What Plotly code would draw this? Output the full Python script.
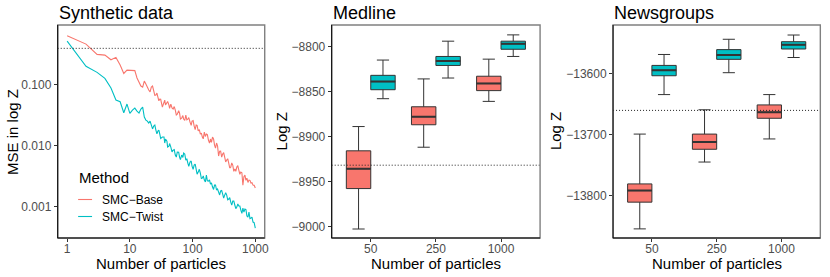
import plotly.graph_objects as go

# ---------------- Data ----------------
particles = [1, 2, 3, 4, 5, 6, 7, 8, 9, 10, 11, 12, 13, 14, 15, 16, 17, 18, 19, 20,
             21, 22, 23, 24, 25, 26, 27, 28, 29, 30, 31,
             33, 35, 36, 37, 39, 40, 42, 43, 45, 47, 49, 51, 53, 55, 57, 60, 62, 64, 67, 70,
             72, 75, 78, 81, 84, 87, 91, 95, 98,
             102, 106, 110, 114, 118, 123, 128, 133, 138, 143, 148, 154, 160, 166, 172, 179,
             186, 193, 200, 208, 216, 224, 232, 241, 250, 260, 270, 280, 291, 302, 313, 325,
             337, 350, 363, 377, 391, 406, 421, 437, 454, 471, 489, 507, 526, 546, 567, 588,
             611, 634, 658, 683, 709, 735, 763, 792, 822, 853, 885, 919, 958, 1000]

mse_base = [0.622, 0.455, 0.309, 0.301, 0.252, 0.276, 0.207, 0.151, 0.171, 0.171,
            0.171, 0.168, 0.127, 0.105, 0.0938, 0.0903, 0.113, 0.101, 0.0870, 0.0807,
            0.0752, 0.0903, 0.094, 0.0807, 0.066, 0.0668, 0.072, 0.0620, 0.054, 0.0575, 0.057,
            0.0426, 0.0535, 0.0554, 0.046, 0.0495, 0.0525, 0.0459, 0.0407, 0.0477, 0.0412,
            0.0395, 0.0434, 0.0380, 0.0317, 0.0327, 0.0373, 0.0340, 0.0272, 0.0281, 0.0309,
            0.0271, 0.0257, 0.0315, 0.0263, 0.0271, 0.0287, 0.0242, 0.0214, 0.0251,
            0.0256, 0.0208, 0.0182, 0.0216, 0.0213, 0.0173, 0.0183, 0.0154, 0.0160, 0.0138,
            0.0129, 0.0166, 0.0141, 0.0154, 0.0151, 0.0123,
            0.0110, 0.0128, 0.0113, 0.0138, 0.0128, 0.0102, 0.0091, 0.0110, 0.0099, 0.00674,
            0.0081, 0.00813, 0.0065, 0.00726, 0.0077, 0.00649,
            0.0054, 0.00580, 0.0061, 0.00518, 0.0043, 0.00445, 0.0052, 0.00480, 0.0038,
            0.00413, 0.0038, 0.00445, 0.0047, 0.00398, 0.0034, 0.00369,
            0.0036, 0.00226, 0.0031, 0.00330, 0.0027, 0.00294, 0.0025, 0.00273, 0.0027,
            0.00244, 0.00247, 0.00226, 0.00224, 0.00202]

mse_twist = [0.510, 0.197, 0.157, 0.125, 0.0870, 0.0554, 0.0520, 0.0344, 0.0477, 0.0336,
             0.0380, 0.0410, 0.0366, 0.0340, 0.0395, 0.0426, 0.0292, 0.0261, 0.0251, 0.0233,
             0.0251, 0.0216, 0.0187, 0.0208, 0.0216, 0.0179, 0.0155, 0.0173, 0.0179, 0.0154,
             0.0131,
             0.0138, 0.0138, 0.0110, 0.0128, 0.0118, 0.0095, 0.00981, 0.0108, 0.00945, 0.0079,
             0.00844, 0.0086, 0.00700, 0.0065, 0.00783, 0.0078, 0.00649, 0.0059, 0.00700,
             0.0064, 0.00754, 0.0073, 0.00580, 0.0061, 0.00518, 0.0046, 0.00537, 0.0056,
             0.00462,
             0.0041, 0.00480, 0.0050, 0.00413, 0.0034, 0.00369, 0.0041, 0.00356, 0.0029,
             0.00294, 0.0032, 0.00273, 0.00255, 0.00330, 0.00265, 0.00263,
             0.00274, 0.00235, 0.00245, 0.00210, 0.00192, 0.00226, 0.00227, 0.00188, 0.00195,
             0.00174, 0.00156, 0.00181, 0.00184, 0.00161, 0.00139, 0.00155,
             0.00170, 0.00155, 0.00130, 0.00134, 0.00141, 0.00119, 0.00107, 0.00124, 0.00124,
             0.00107, 0.00093, 0.000989, 0.00111, 0.00103, 0.00103, 0.000883,
             0.00078, 0.000952, 0.00082, 0.000917, 0.0009, 0.000705, 0.00068, 0.000819,
             0.00064, 0.000654, 0.00068, 0.000562, 0.00055, 0.000449]

mse_reference = 0.388
methods = ["SMC\u2212Base", "SMC\u2212Twist"]

box_categories = ["50", "250", "1000"]

medline_base = {"low": [-9003, -8912, -8861], "q1": [-8958, -8887, -8849],
                "med": [-8936, -8878, -8841], "q3": [-8916, -8867, -8833],
                "high": [-8889, -8836, -8814]}
medline_twist = {"low": [-8858, -8835, -8811], "q1": [-8848, -8821, -8803],
                 "med": [-8839, -8816, -8797], "q3": [-8832, -8811, -8794],
                 "high": [-8815, -8794, -8787]}
medline_reference = -8932
medline_ticks = [-9000, -8950, -8900, -8850, -8800]

news_base = {"low": [-13855, -13745, -13707], "q1": [-13811, -13724, -13673],
             "med": [-13792, -13712, -13663], "q3": [-13781, -13699, -13651],
             "high": [-13699, -13659, -13634]}
news_twist = {"low": [-13634, -13598, -13573], "q1": [-13603, -13576, -13559],
              "med": [-13594, -13569, -13552], "q3": [-13586, -13560, -13547],
              "high": [-13568, -13543, -13536]}
news_reference = -13660
news_ticks = [-13800, -13700, -13600]

n = min(len(particles), len(mse_base), len(mse_twist))

# ---------------- Style ----------------
W, H = 830, 277
RED, TEAL = "#F8766D", "#00BFC4"
COLORS = [RED, TEAL]
FONT = "Liberation Sans, Arial, Helvetica, sans-serif"
TICKCOL = "#4D4D4D"
BOXLINE = "#333333"

def px_x(p):
    return p / W

def px_y(p):
    return 1 - p / H

def minus(v):
    return str(v).replace("-", "\u2212")

panels = {1: (58, 266), 2: (333.3, 542.7), 3: (616, 824.3)}
top_px, bot_px = 25, 238

fig = go.Figure()

for name, vals, col in zip(methods, [mse_base, mse_twist], COLORS):
    fig.add_trace(go.Scatter(x=particles[:n], y=vals[:n], mode="lines", name=name,
                             showlegend=False, line=dict(color=col, width=1.1),
                             xaxis="x", yaxis="y"))

def add_boxes(data, color, xa, ya, name, side):
    fig.add_trace(go.Box(
        x=box_categories, q1=data["q1"], median=data["med"], q3=data["q3"],
        lowerfence=data["low"], upperfence=data["high"], name=name,
        fillcolor=color, line=dict(color=BOXLINE, width=1), showlegend=False,
        offsetgroup=name, xaxis=xa, yaxis=ya, boxpoints=False, hoverinfo="skip"))
    for i, m in enumerate(data["med"]):
        x0, x1 = (i - 0.375, i) if side == 0 else (i, i + 0.375)
        fig.add_shape(type="line", xref=xa, yref=ya, x0=x0, x1=x1, y0=m, y1=m,
                      line=dict(color=BOXLINE, width=2), layer="above")

add_boxes(medline_base, RED, "x2", "y2", "base", 0)
add_boxes(medline_twist, TEAL, "x2", "y2", "twist", 1)
add_boxes(news_base, RED, "x3", "y3", "base", 0)
add_boxes(news_twist, TEAL, "x3", "y3", "twist", 1)

axis_common = dict(showgrid=False, zeroline=False, showline=False, ticks="outside",
                   ticklen=3, tickcolor="#333333", tickwidth=1,
                   tickfont=dict(family=FONT, size=12, color=TICKCOL))
xstand = dict(ticklabelstandoff=-3)

ydom = [px_y(bot_px), px_y(top_px)]
fig.update_layout(
    xaxis=dict(domain=[px_x(panels[1][0]), px_x(panels[1][1])], type="log",
               range=[-0.15, 3.15], tickvals=[1, 10, 100, 1000],
               ticktext=["1", "10", "100", "1000"], anchor="y", **axis_common, **xstand),
    yaxis=dict(domain=ydom, type="log", range=[-3.51, -0.03],
               tickvals=[0.001, 0.01, 0.1], ticktext=["0.001", "0.010", "0.100"],
               anchor="x", **axis_common),
    xaxis2=dict(domain=[px_x(panels[2][0]), px_x(panels[2][1])], type="category",
                categoryorder="array", categoryarray=box_categories,
                range=[-0.6, 2.6], anchor="y2", **axis_common, **xstand),
    yaxis2=dict(domain=ydom, range=[-9013, -8776], tickvals=medline_ticks,
                ticktext=[minus(v) for v in medline_ticks], anchor="x2", **axis_common),
    xaxis3=dict(domain=[px_x(panels[3][0]), px_x(panels[3][1])], type="category",
                categoryorder="array", categoryarray=box_categories,
                range=[-0.6, 2.6], anchor="y3", **axis_common, **xstand),
    yaxis3=dict(domain=ydom, range=[-13870, -13519.5], tickvals=news_ticks,
                ticktext=[minus(v) for v in news_ticks], anchor="x3", **axis_common),
    boxmode="group", boxgap=0.25, boxgroupgap=0,
    width=W, height=H, margin=dict(l=0, r=0, t=0, b=0),
    paper_bgcolor="white", plot_bgcolor="white",
    font=dict(family=FONT, color="black"),
    showlegend=False,
)

dot = dict(color="#222222", width=1, dash="1px,2px")
for xr, yr, v in [("x domain", "y", mse_reference), ("x2 domain", "y2", medline_reference),
                  ("x3 domain", "y3", news_reference)]:
    fig.add_shape(type="line", xref=xr, yref=yr, x0=0, x1=1, y0=v, y1=v, line=dot)

for sfx in ["", "2", "3"]:
    xr, yr = f"x{sfx} domain", f"y{sfx} domain"
    fig.add_shape(type="rect", xref=xr, yref=yr, x0=0, x1=1, y0=0, y1=1,
                  line=dict(color="#808080", width=1.4), layer="above")
    fig.add_shape(type="line", xref=xr, yref=yr, x0=0, x1=0, y0=0, y1=1,
                  line=dict(color="black", width=1), layer="above")
    fig.add_shape(type="line", xref=xr, yref=yr, x0=0, x1=1, y0=0, y1=0,
                  line=dict(color="black", width=1), layer="above")

# manual legend (inside left panel)
fig.add_annotation(text="Method", x=px_x(77), y=px_y(177), xref="paper", yref="paper",
                   xanchor="left", yanchor="middle", showarrow=False,
                   font=dict(family=FONT, size=15, color="black"))
for k, (name, col) in enumerate(zip(methods, COLORS)):
    yy = [199.5, 216.5][k]
    fig.add_shape(type="line", xref="paper", yref="paper", x0=px_x(78.5), x1=px_x(92.5),
                  y0=px_y(yy), y1=px_y(yy), line=dict(color=col, width=1.1))
    fig.add_annotation(text=name, x=px_x(100.5), y=px_y(yy), xref="paper", yref="paper",
                       xanchor="left", yanchor="middle", showarrow=False,
                       font=dict(family=FONT, size=12, color="black"))

titles = ["Synthetic data", "Medline", "Newsgroups"]
ytitles = [("MSE in log Z", 12.5), ("Log Z", 283.3), ("Log Z", 558.3)]
for k, t in enumerate(titles):
    l, r = panels[k + 1]
    fig.add_annotation(text=t, x=px_x(l - 1), y=px_y(13), xref="paper", yref="paper",
                       xanchor="left", yanchor="middle", showarrow=False,
                       font=dict(family=FONT, size=18, color="black"))
    fig.add_annotation(text="Number of particles", x=px_x((l + r) / 2), y=px_y(263.5),
                       xref="paper", yref="paper", xanchor="center", yanchor="middle",
                       showarrow=False, font=dict(family=FONT, size=15, color="black"))
    fig.add_annotation(text=ytitles[k][0], x=px_x(ytitles[k][1]), y=px_y((top_px + bot_px) / 2),
                       xref="paper", yref="paper", xanchor="center", yanchor="middle",
                       textangle=-90, showarrow=False,
                       font=dict(family=FONT, size=15, color="black"))

print(len(particles), len(mse_base), len(mse_twist))
fig.write_html("out.html", config={"displayModeBar": False},
               post_script="document.body.style.margin='0';document.body.style.overflow='hidden';")
